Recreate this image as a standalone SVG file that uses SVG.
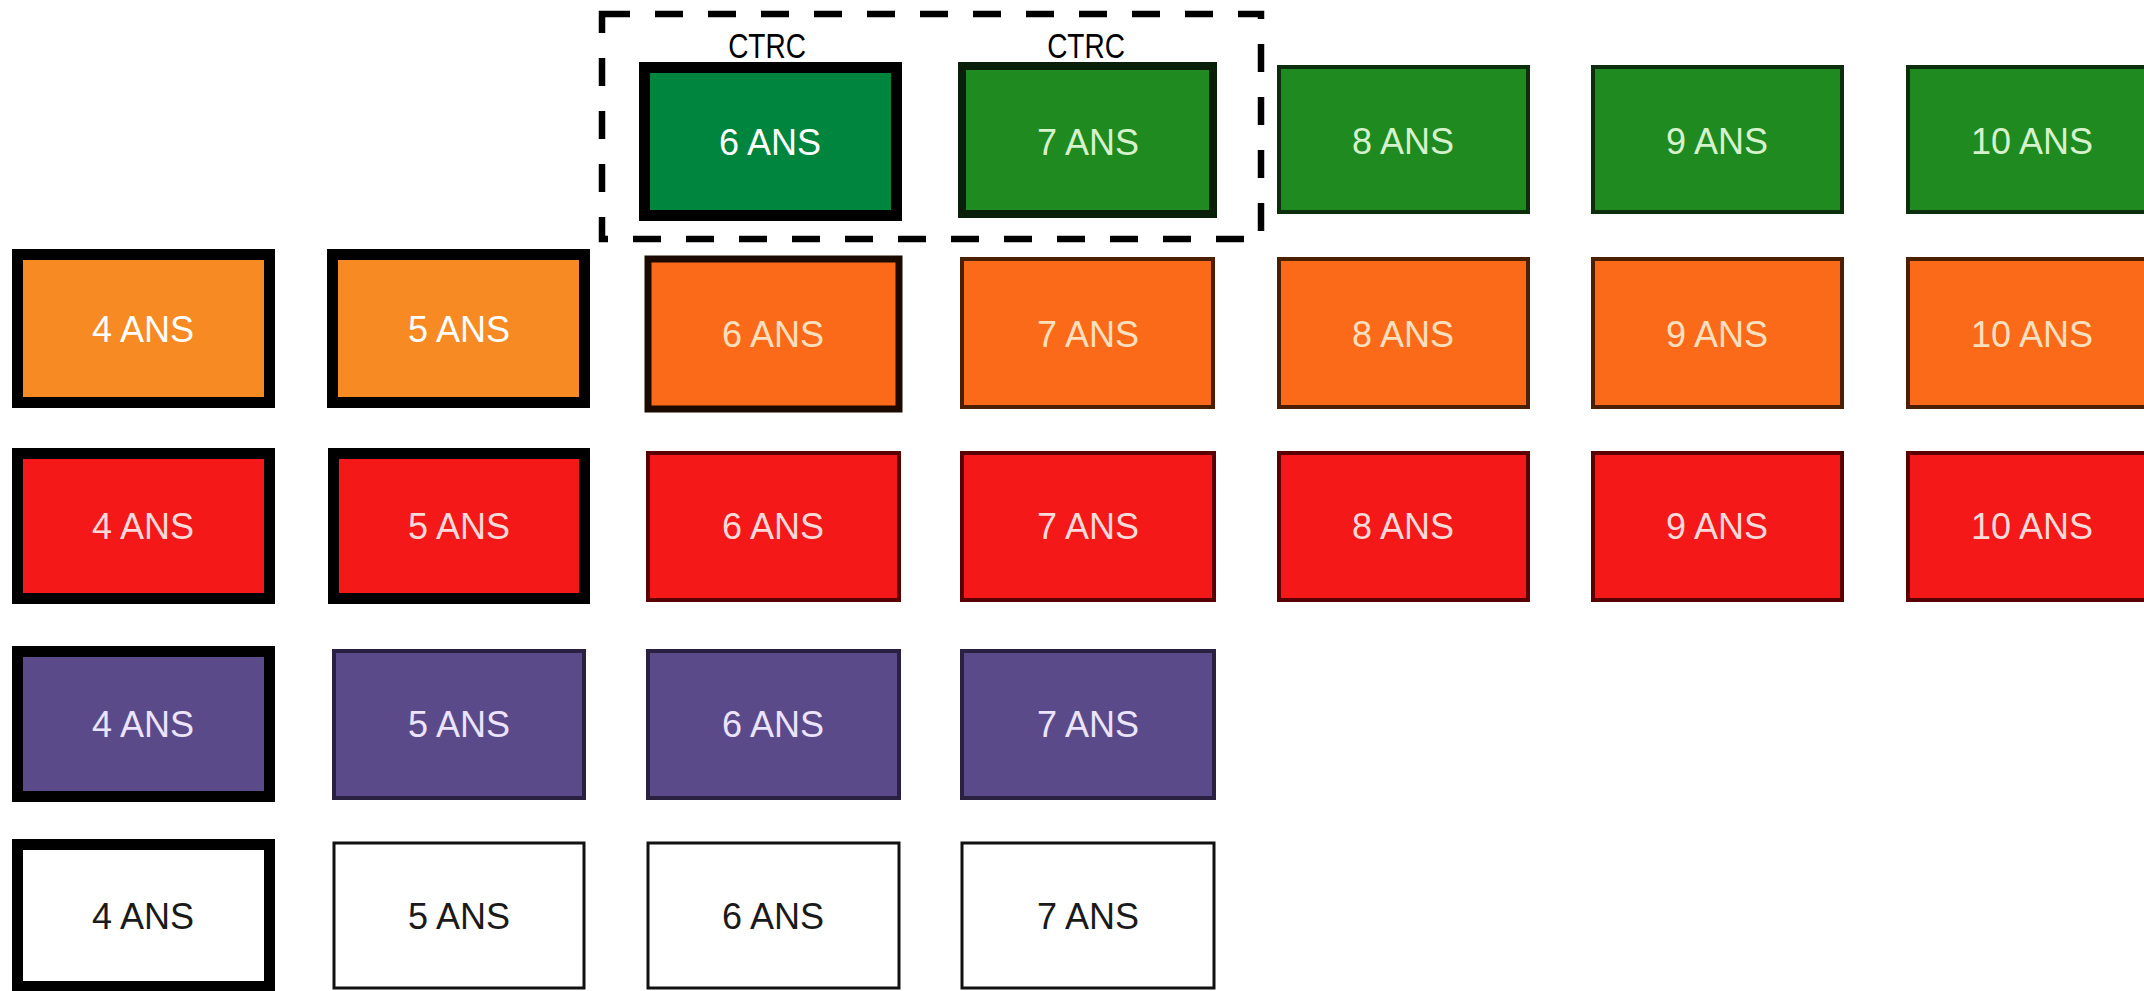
<svg xmlns="http://www.w3.org/2000/svg" width="2144" height="991" viewBox="0 0 2144 991">
<style>
text{font-family:"Liberation Sans",Arial,sans-serif;font-size:36px;text-anchor:middle}
.thick{stroke:#000;stroke-width:11}
.g1{fill:#00853e}
.g2{fill:#1f8a1f;stroke:#0c2e0c;stroke-width:4}
.g7{fill:#1f8a1f;stroke:#0a1f0a;stroke-width:8}
.o1{fill:#f78a22}
.o2{fill:#fb6a18;stroke:#4a2000;stroke-width:4}
.o6{fill:#fb6a18;stroke:#1a0a00;stroke-width:7}
.r1{fill:#f41818}
.r2{fill:#f41818;stroke:#5a0000;stroke-width:4}
.p1{fill:#5b4a8a}
.p2{fill:#5b4a8a;stroke:#2a2040;stroke-width:4}
.w1{fill:#fff}
.w2{fill:#fff;stroke:#111;stroke-width:3}
.tw{fill:#fff}
.tg{fill:#d6f2cc}
.to{fill:#fbe0bf}
.tr{fill:#fbdada}
.tp{fill:#ece4fa}
.tk{fill:#1a1a1a}
.lbl{font-size:35px;fill:#000}
.dash{fill:none;stroke:#000;stroke-width:6.5;stroke-dasharray:28 25}
</style>
<rect width="2144" height="991" fill="#fff"/>
<g id="connectors"/>
<g id="group-ctrc">
<rect class="dash" x="602" y="14" width="659" height="225"/>
</g>
<!-- green row -->
<g id="g6"><text class="lbl" transform="translate(767 58) scale(0.8 1)">CTRC</text><rect class="g1 thick" x="644.5" y="67.5" width="252" height="148"/><text class="tw" x="770" y="155">6 ANS</text></g>
<g id="g7"><text class="lbl" transform="translate(1086 58) scale(0.8 1)">CTRC</text><rect class="g7" x="962" y="66" width="251" height="148"/><text class="tg" x="1088" y="155">7 ANS</text></g>
<g id="g8"><rect class="g2" x="1279" y="67" width="249" height="145"/><text class="tg" x="1403" y="154">8 ANS</text></g>
<g id="g9"><rect class="g2" x="1593" y="67" width="249" height="145"/><text class="tg" x="1717" y="154">9 ANS</text></g>
<g id="g10"><rect class="g2" x="1908" y="67" width="249" height="145"/><text class="tg" x="2032" y="154">10 ANS</text></g>
<!-- orange row -->
<g id="o4"><rect class="o1 thick" x="17.5" y="254.5" width="252" height="148"/><text class="tw" x="143" y="342">4 ANS</text></g>
<g id="o5"><rect class="o1 thick" x="332.5" y="254.5" width="252" height="148"/><text class="tw" x="459" y="342">5 ANS</text></g>
<g id="o6"><rect class="o6" x="648" y="259" width="251" height="150"/><text class="to" x="773" y="347">6 ANS</text></g>
<g id="o7"><rect class="o2" x="962" y="259" width="251" height="148"/><text class="to" x="1088" y="347">7 ANS</text></g>
<g id="o8"><rect class="o2" x="1279" y="259" width="249" height="148"/><text class="to" x="1403" y="347">8 ANS</text></g>
<g id="o9"><rect class="o2" x="1593" y="259" width="249" height="148"/><text class="to" x="1717" y="347">9 ANS</text></g>
<g id="o10"><rect class="o2" x="1908" y="259" width="249" height="148"/><text class="to" x="2032" y="347">10 ANS</text></g>
<!-- red row -->
<g id="r4"><rect class="r1 thick" x="17.5" y="453.5" width="252" height="145"/><text class="tr" x="143" y="539">4 ANS</text></g>
<g id="r5"><rect class="r1 thick" x="333.5" y="453.5" width="251" height="145"/><text class="tr" x="459" y="539">5 ANS</text></g>
<g id="r6"><rect class="r2" x="648" y="453" width="251" height="147"/><text class="tr" x="773" y="539">6 ANS</text></g>
<g id="r7"><rect class="r2" x="962" y="453" width="252" height="147"/><text class="tr" x="1088" y="539">7 ANS</text></g>
<g id="r8"><rect class="r2" x="1279" y="453" width="249" height="147"/><text class="tr" x="1403" y="539">8 ANS</text></g>
<g id="r9"><rect class="r2" x="1593" y="453" width="249" height="147"/><text class="tr" x="1717" y="539">9 ANS</text></g>
<g id="r10"><rect class="r2" x="1908" y="453" width="249" height="147"/><text class="tr" x="2032" y="539">10 ANS</text></g>
<!-- purple row -->
<g id="p4"><rect class="p1 thick" x="17.5" y="651.5" width="252" height="145"/><text class="tp" x="143" y="737">4 ANS</text></g>
<g id="p5"><rect class="p2" x="334" y="651" width="250" height="147"/><text class="tp" x="459" y="737">5 ANS</text></g>
<g id="p6"><rect class="p2" x="648" y="651" width="251" height="147"/><text class="tp" x="773" y="737">6 ANS</text></g>
<g id="p7"><rect class="p2" x="962" y="651" width="252" height="147"/><text class="tp" x="1088" y="737">7 ANS</text></g>
<!-- white row -->
<g id="w4"><rect class="w1 thick" x="17.5" y="844.5" width="252" height="142"/><text class="tk" x="143" y="929">4 ANS</text></g>
<g id="w5"><rect class="w2" x="334" y="843" width="250" height="145"/><text class="tk" x="459" y="929">5 ANS</text></g>
<g id="w6"><rect class="w2" x="648" y="843" width="251" height="145"/><text class="tk" x="773" y="929">6 ANS</text></g>
<g id="w7"><rect class="w2" x="962" y="843" width="252" height="145"/><text class="tk" x="1088" y="929">7 ANS</text></g>
</svg>
